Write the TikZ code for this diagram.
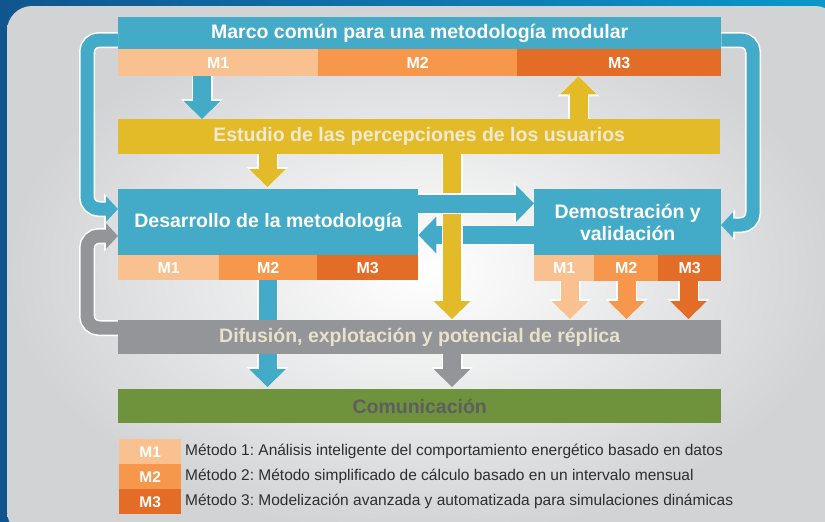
\documentclass[tikz,border=0pt]{standalone}
\usepackage{fontspec}
\setmainfont{Liberation Sans}
\usetikzlibrary{arrows.meta}
\frenchspacing

\definecolor{azul}{HTML}{43ABC8}
\definecolor{mUno}{HTML}{F9C190}
\definecolor{mDos}{HTML}{F7974B}
\definecolor{mTres}{HTML}{E36D26}
\definecolor{amarillo}{HTML}{E3BB29}
\definecolor{gris}{HTML}{939598}
\definecolor{verde}{HTML}{6F923D}
\definecolor{fondo}{HTML}{D2D3D5}
\definecolor{marino}{HTML}{11558E}
\definecolor{celeste}{HTML}{0A97CA}
\definecolor{crema}{HTML}{F1E9D2}
\definecolor{textoGris}{HTML}{5E5E60}
\definecolor{leyenda}{HTML}{2E2E2E}

\tikzset{
    caja/.style={inner sep=0pt, anchor=north west, text=white,
        font=\fontsize{19.5}{22}\selectfont\bfseries},
    etiqueta/.style={caja, font=\fontsize{16}{18}\selectfont\bfseries},
    flecha/.style={line width=18pt, -{Triangle[length=18pt,width=37pt,line width=0pt]},
        preaction={draw=white, line width=21pt, -{Triangle[length=20pt,width=42pt,line width=0pt]}}},
    bucle/.style={line width=13pt, rounded corners=12pt, -{Triangle[length=12pt,width=26pt,line width=0pt]},
        preaction={draw=white, line width=16pt, -{Triangle[length=14pt,width=31pt,line width=0pt]}}},
}

\begin{document}
\begin{tikzpicture}[x=1pt, y=-1pt]
    \useasboundingbox (0,0) rectangle (825,522);
    \clip (0,0) rectangle (825,522);
    % Fondo
    \shade[left color=marino, right color=celeste] (0,0) rectangle (825,522);
    \shade[inner color=white, outer color=fondo, rounded corners=25pt] (7,6) rectangle (840,536);

    % Cajas
    \node[caja, fill=azul, minimum width=603pt, minimum height=32pt] (marco) at (118,17)
        {Marco común para una metodología modular};
    \foreach \i/\x/\w/\c in {1/118/200/mUno, 2/318/199/mDos, 3/517/204/mTres} {
        \node[etiqueta, fill=\c, minimum width=\w pt, minimum height=27pt] (mt\i) at (\x,49) {M\i};
    }
    \node[caja, fill=amarillo, text=crema, minimum width=602pt, minimum height=35pt] (estudio) at (118,119)
        {Estudio de las percepciones de los usuarios};

    % Bucles
    \draw[bucle, azul] (marco.west |- 0,40) -- (87,40) -- (87,209) -- (118,209);
    \draw[bucle, azul] (marco.east |- 0,40) -- (753,40) -- (753,225) -- (721,225);
    \draw[bucle, gris] (118,328) -- (87,328) -- (87,236) -- (118,236);

    \node[caja, fill=azul, minimum width=300pt, minimum height=66pt] (desarrollo) at (118,189)
        {Desarrollo de la metodología};
    \foreach \i/\x/\w/\c in {1/118/101/mUno, 2/219/98/mDos, 3/317/101/mTres} {
        \node[etiqueta, fill=\c, minimum width=\w pt, minimum height=25pt] (md\i) at (\x,255) {M\i};
    }
    \node[caja, fill=azul, align=center, minimum width=187pt, minimum height=66pt] (demo) at (534,189)
        {Demostración y\\validación};
    \foreach \i/\x/\w/\c in {1/534/60/mUno, 2/594/64/mDos, 3/658/63/mTres} {
        \node[etiqueta, fill=\c, minimum width=\w pt, minimum height=26pt] (mv\i) at (\x,255) {M\i};
    }

    % Flechas
    \draw[flecha, azul] (202,0 |- mt1.south) -- (202,0 |- estudio.north);
    \draw[flecha, amarillo] (578.5,0 |- estudio.north) -- (578.5,0 |- mt3.south);
    \draw[flecha, amarillo, shorten >=2pt] (267.5,0 |- estudio.south) -- (267.5,0 |- desarrollo.north);
    \draw[flecha, azul] (demo.west |- 0,235) -- (desarrollo.east |- 0,235);
    \draw[flecha, amarillo] (452,0 |- estudio.south) -- (452,319);
    \draw[flecha, azul] (desarrollo.east |- 0,203.5) -- (demo.west |- 0,203.5);
    \foreach \i/\x/\c in {1/570/mUno, 2/626.5/mDos, 3/688.5/mTres} {
        \draw[flecha, \c] (\x,0 |- mv\i.south) -- (\x,319);
    }
    \draw[flecha, azul] (267.5,0 |- md2.south) -- (267.5,387);

    \node[caja, fill=gris, text=crema!90!gris, minimum width=603pt, minimum height=34pt] (difusion) at (118,320)
        {Difusión, explotación y potencial de réplica};
    \draw[flecha, gris] (452,0 |- difusion.south) -- (452,387);
    \node[caja, fill=verde, text=textoGris, minimum width=603pt, minimum height=34pt] (comunicacion) at (118,389)
        {Comunicación};

    % Leyenda
    \foreach \i/\y/\c/\txt in {
        1/439/mUno/{Método 1: Análisis inteligente del comportamiento energético basado en datos},
        2/464/mDos/{Método 2: Método simplificado de cálculo basado en un intervalo mensual},
        3/489/mTres/{Método 3: Modelización avanzada y automatizada para simulaciones dinámicas}
        } {
        \node[etiqueta, fill=\c, font=\fontsize{15.5}{17}\selectfont\bfseries, minimum width=62pt, minimum height=25pt] (l\i) at (119,\y) {M\i};
        \node[anchor=west, inner sep=0pt, text=leyenda, font=\fontsize{15.5}{17}\selectfont] (t\i) at (185,\y+12.5) {\txt};
    }
\end{tikzpicture}
\end{document}
